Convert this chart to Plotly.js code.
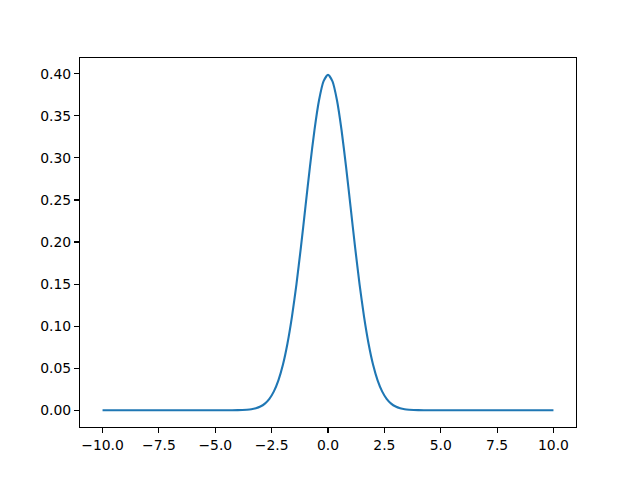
<!DOCTYPE html>
<html>
<head>
<meta charset="utf-8">
<script src="https://cdn.plot.ly/plotly-3.0.1.min.js"></script>
<style>html,body{margin:0;padding:0;background:#fff;}#chart{width:640px;height:480px;}</style>
</head>
<body>
<div id="chart"></div>
<script>
// Values
const xValues = [-10, -7.5, -5, -4.5, -4.0, -3.8, -3.6, -3.4, -3.2, -3.0, -2.8, -2.6, -2.4, -2.2, -2.0, -1.8, -1.6, -1.4, -1.2, -1.0, -0.8, -0.6, -0.4, -0.2, 0,
  0.2, 0.4, 0.6, 0.8, 1.0, 1.2, 1.4, 1.6, 1.8, 2.0, 2.2, 2.4, 2.6, 2.8, 3.0, 3.2, 3.4, 3.6, 3.8, 4.0, 4.5, 5, 7.5, 10];
const yValues = [0, 0, 0, 0.00002, 0.0001, 0.0003, 0.0006, 0.0012, 0.0024, 0.0044, 0.0079, 0.0136, 0.0224, 0.0355, 0.0540, 0.0790, 0.1109, 0.1497, 0.1942, 0.2420, 0.2897, 0.3332, 0.3683, 0.3910, 0.3989,
  0.3910, 0.3683, 0.3332, 0.2897, 0.2420, 0.1942, 0.1497, 0.1109, 0.0790, 0.0540, 0.0355, 0.0224, 0.0136, 0.0079, 0.0044, 0.0024, 0.0012, 0.0006, 0.0003, 0.0001, 0.00002, 0, 0, 0];

const axisFont = {family: 'DejaVu Sans', size: 13.9, color: '#000'};
const common = {
  showline: true, mirror: true, linecolor: '#000', linewidth: 1.1,
  ticks: 'outside', ticklen: 4.9, tickwidth: 1.1, tickcolor: '#000',
  showgrid: false, zeroline: false, tickfont: axisFont
};
const layout = {
  width: 640, height: 480,
  margin: {l: 80, r: 64, t: 57.6, b: 52.8},
  paper_bgcolor: '#fff', plot_bgcolor: '#fff',
  showlegend: false,
  xaxis: Object.assign({}, common, {range: [-11, 11], tick0: -10, dtick: 2.5, tickformat: '.1f'}),
  yaxis: Object.assign({}, common, {range: [-0.01995, 0.41883], tick0: 0, dtick: 0.05, tickformat: '.2f'})
};
Plotly.newPlot('chart', [{
  x: xValues, y: yValues, type: 'scatter', mode: 'lines',
  line: {color: '#1f77b4', width: 2.1, shape: 'spline', smoothing: 0.6}
}], layout, {staticPlot: true, displayModeBar: false});
</script>
</body>
</html>
